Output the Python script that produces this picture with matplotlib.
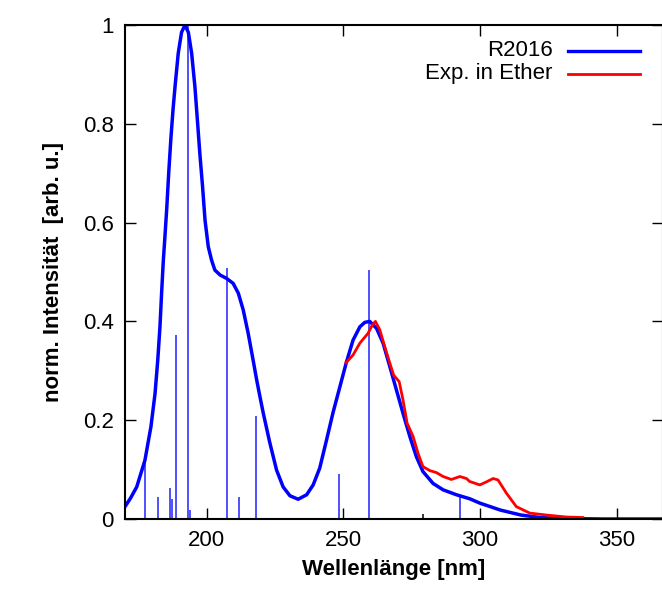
import matplotlib
matplotlib.use('Agg')
import matplotlib.pyplot as plt

plt.rcParams['font.family'] = ['Liberation Sans', 'DejaVu Sans']

# theoretical spectrum (R2016), broadened
calc_x = [170.0, 172.0, 174.3, 177.3, 179.5, 181.0, 182.0, 182.8, 183.4, 184.0,
          184.6, 185.3, 186.0, 186.8, 187.6, 188.4, 189.5, 190.7, 191.95, 193.2,
          194.4, 195.6, 196.5, 197.4, 198.4, 199.3, 200.5, 201.7, 202.9, 204.8,
          207.2, 209.6, 211.5, 213.3, 215.1, 216.9, 218.2, 219.4, 220.6, 221.8,
          223.0, 225.5, 227.9, 230.4, 233.4, 236.5, 238.9, 241.3, 243.8, 246.2,
          248.7, 251.1, 253.5, 256.0, 257.8, 259.6, 262.1, 264.5, 267.0, 269.4,
          271.8, 274.3, 276.7, 279.1, 282.8, 286.5, 291.4, 296.2, 300.0, 307.5,
          315.0, 322.0, 330.0, 345.0, 367.0]
calc_y = [0.025, 0.042, 0.065, 0.119, 0.187, 0.254, 0.322, 0.389, 0.457, 0.52,
          0.57, 0.63, 0.70, 0.77, 0.83, 0.88, 0.943, 0.985, 1.0, 0.985,
          0.943, 0.875, 0.808, 0.740, 0.673, 0.605, 0.551, 0.524, 0.504, 0.494,
          0.487, 0.477, 0.457, 0.423, 0.376, 0.322, 0.282, 0.248, 0.215, 0.185,
          0.155, 0.099, 0.065, 0.047, 0.040, 0.049, 0.069, 0.103, 0.160, 0.216,
          0.268, 0.318, 0.362, 0.389, 0.398, 0.40, 0.386, 0.356, 0.308, 0.261,
          0.214, 0.167, 0.126, 0.096, 0.072, 0.059, 0.049, 0.041, 0.032, 0.018,
          0.008, 0.003, 0.001, 0.0, 0.0]

# stick spectrum (oscillator strengths)
stick_x = [177.3, 182.0, 186.5, 187.2, 188.5, 193.2, 193.8, 207.4, 211.7, 217.8,
           248.4, 259.4, 292.8]
stick_y = [0.125, 0.045, 0.063, 0.04, 0.372, 1.0, 0.018, 0.508, 0.045, 0.208,
           0.091, 0.504, 0.045]
dark_stick_x = [279.0]
dark_stick_y = [0.01]

# experiment in ether
exp_x = [250.9, 253.5, 256.0, 259.0, 260.6, 261.7, 263.3, 265.1, 267.0, 268.4,
         270.4, 271.8, 273.3, 275.5, 277.3, 279.1, 281.6, 284.0, 286.5, 289.5,
         292.6, 295.0, 296.2, 299.9, 302.3, 304.8, 306.6, 309.7, 313.3, 318.2,
         324.3, 331.6, 337.6]
exp_y = [0.316, 0.332, 0.356, 0.376, 0.393, 0.40, 0.383, 0.349, 0.315, 0.291,
         0.278, 0.241, 0.194, 0.167, 0.133, 0.106, 0.098, 0.094, 0.086, 0.080,
         0.086, 0.082, 0.076, 0.069, 0.075, 0.082, 0.079, 0.052, 0.025, 0.012,
         0.008, 0.004, 0.003]

xticks = [200, 250, 300, 350]
yticks = [0, 0.2, 0.4, 0.6, 0.8, 1.0]
ytick_labels = ['0', '0.2', '0.4', '0.6', '0.8', '1']

fig = plt.figure(figsize=(6.62, 5.95), dpi=100)
ax = fig.add_axes([125 / 662, 1 - 519 / 595, 538 / 662, 494 / 595])

ax.vlines(stick_x, 0, stick_y, color='#2020ff', lw=1.1)
ax.vlines(dark_stick_x, 0, dark_stick_y, color='black', lw=1.1)
ax.plot(calc_x, calc_y, color='#0000ff', lw=2.5, solid_joinstyle='round',
        solid_capstyle='round')
ax.plot(exp_x, exp_y, color='#ff0000', lw=2.0, solid_joinstyle='round')

ax.set_xlim(170, 367)
ax.set_ylim(0, 1)
ax.set_xticks(xticks)
ax.set_yticks(yticks)
ax.set_yticklabels(ytick_labels)
ax.tick_params(direction='in', length=8, width=1, labelsize=16, pad=8,
               top=True, right=True)
for s in ax.spines.values():
    s.set_linewidth(1.5)

ax.set_xlabel('Wellenlänge [nm]', fontsize=16, fontweight='bold', labelpad=6)
ax.set_ylabel('norm. Intensität  [arb. u.]', fontsize=16, fontweight='bold', labelpad=14)

# gnuplot style key, top right
ax.text(0.795, 0.948, 'R2016', transform=ax.transAxes, ha='right', va='center', fontsize=16)
ax.text(0.795, 0.901, 'Exp. in Ether', transform=ax.transAxes, ha='right', va='center', fontsize=16)
ax.plot([0.823, 0.957], [0.948, 0.948], color='#0000ff', lw=2.4, transform=ax.transAxes)
ax.plot([0.823, 0.957], [0.901, 0.901], color='#ff0000', lw=2.0, transform=ax.transAxes)

fig.savefig('out.png', dpi=100)
